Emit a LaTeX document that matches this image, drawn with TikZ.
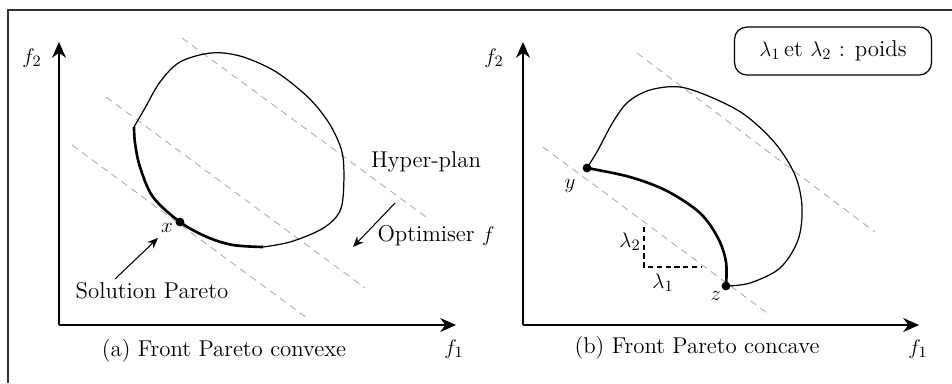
\documentclass[tikz,border=0pt]{standalone}
\usetikzlibrary{arrows.meta}
\begin{document}
\begin{tikzpicture}[x=0.02cm,y=-0.02cm,
  axis/.style={line width=0.9pt,-{Stealth[length=9pt,width=8pt]}},
  hyp/.style={gray!65,line width=0.5pt,dash pattern=on 4pt off 3pt},
  thin front/.style={line width=0.7pt},
  front/.style={line width=1.5pt},
  lbl/.style={font=\fontsize{13}{15}\selectfont,inner sep=1pt},
  dot/.style={circle,fill,inner sep=0pt,minimum size=5pt},
  pointer/.style={line width=0.6pt,-{Stealth[length=6pt,width=5pt]}},
  weight/.style={line width=0.6pt,dash pattern=on 3pt off 2pt}
]
\useasboundingbox (0,0) rectangle (952,383);
\draw[line width=0.8pt,black!80] (8,383) -- (8,10) -- (952,10);

% ---------- panel (a) ----------
\coordinate (oa) at (59,325);
\coordinate (ya) at (59,42);
\coordinate (xa) at (456,325);
\draw[axis] (oa) -- (ya);
\draw[axis] (oa) -- (xa);
\node[lbl] (f2a) at (32,58) {$f_2$};
\node[lbl] (f1a) at (454,349) {$f_1$};
\node[lbl] (capa) at (224,351) {(a) Front Pareto convexe};

\coordinate (ha1) at (182,38);  \coordinate (hb1) at (430,220);
\coordinate (ha2) at (106,97);  \coordinate (hb2) at (365,288);
\coordinate (ha3) at (72,145);  \coordinate (hb3) at (307,318);
\draw[hyp] (ha1) -- (hb1);
\draw[hyp] (ha2) -- (hb2);
\draw[hyp] (ha3) -- (hb3);

\draw[thin front] plot[smooth,tension=0.55] coordinates {(263,247) (290,242) (320,230) (337,216) (343,198) (343,157) (333,130) (318,108) (300,90) (273,70) (240,56) (211,53) (180,62) (160,82) (145,108) (134,127)};
\draw[front] plot[smooth,tension=0.55] coordinates {(134,127) (135,143) (140,167) (153,197) (180,222) (207,237) (233,245) (263,247)};
\node[dot] (x) at (180,222) {};
\node[lbl] (xl) at (167,228) {$x$};

\node[lbl] (sol) at (152,291) {Solution Pareto};
\coordinate (solt) at (115,279);
\coordinate (solh) at (158,238);
\draw[pointer] (solt) -- (solh);

\node[lbl] (hyper) at (426,162) {Hyper-plan};
\node[lbl] (opt) at (436,236) {Optimiser $f$};
\coordinate (optt) at (395,203);
\coordinate (opth) at (353,247);
\draw[pointer] (optt) -- (opth);

% ---------- panel (b) ----------
\coordinate (ob) at (523,325);
\coordinate (yb) at (523,42);
\coordinate (xb) at (919,325);
\draw[axis] (ob) -- (yb);
\draw[axis] (ob) -- (xb);
\node[lbl] (f2b) at (494,58) {$f_2$};
\node[lbl] (f1b) at (918,349) {$f_1$};
\node[lbl] (capb) at (697,348) {(b) Front Pareto concave};

\coordinate (hc1) at (543,147); \coordinate (hd1) at (767,313);
\coordinate (hc2) at (637,53);  \coordinate (hd2) at (875,232);
\draw[hyp] (hc1) -- (hd1);
\draw[hyp] (hc2) -- (hd2);

\node[dot] (y) at (587,168) {};
\node[dot] (z) at (726,286) {};
\draw[thin front] plot[smooth,tension=0.55] coordinates {(726,286) (750,283) (780,268) (798,240) (802,207) (795,175) (775,143) (745,115) (713,98) (680,87) (650,90) (628,102) (613,122) (598,150) (587,168)};
\draw[front] plot[smooth,tension=0.55] coordinates {(587,168) (630,177) (667,191) (700,213) (718,238) (726,262) (726,286)};
\node[lbl] (yl) at (570,186) {$y$};
\node[lbl] (zl) at (716,296) {$z$};

\coordinate (wt) at (644,227);
\coordinate (wc) at (644,267);
\coordinate (wr) at (702,267);
\draw[weight] (wt) -- (wc) -- (wr);
\node[lbl] (l2) at (630,242) {$\lambda_2$};
\node[lbl] (l1) at (663,283) {$\lambda_1$};

\node[lbl,draw,line width=0.7pt,rounded corners=7pt,minimum width=3.94cm,minimum height=0.96cm] (leg) at (833,51) {$\lambda_1$\,et $\lambda_2$ : poids};
\end{tikzpicture}
\end{document}
